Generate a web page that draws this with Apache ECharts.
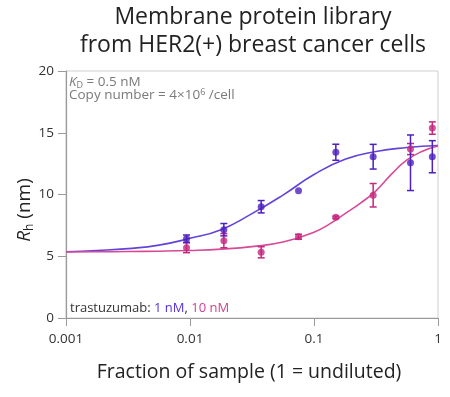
<!DOCTYPE html>
<html>
<head>
<meta charset="utf-8">
<script src="https://cdn.jsdelivr.net/npm/echarts@6/dist/echarts.min.js"></script>
<style>
  html, body { margin: 0; padding: 0; background: #fff; }
  #chart { width: 450px; height: 397px; }
</style>
</head>
<body>
<div id="chart"></div>
<script>
// measured points (fraction of sample) and R_h in nm
const fractions = [0.009375, 0.01875, 0.0375, 0.075, 0.15, 0.3, 0.6, 0.9]
const rh1nM = [6.42, 7.15, 9.01, 10.31, 13.42, 13.06, 12.57, 13.06]
const err1nM = [0.3, 0.5, 0.5, 0, 0.65, 1.0, 2.25, 1.3]
const rh10nM = [5.69, 6.26, 5.32, 6.58, 8.15, 9.94, 13.68, 15.38]
const err10nM = [0.4, 0.57, 0.45, 0.2, 0.1, 0.95, 0.45, 0.5]

// fitted curves
const fit1nMX = [0.001, 0.00178, 0.00316, 0.00562, 0.01, 0.0178, 0.0316, 0.0562, 0.1, 0.178, 0.316, 0.562, 1]
const fit1nMY = [5.37, 5.47, 5.62, 5.9, 6.45, 7.15, 8.45, 9.95, 11.62, 12.85, 13.48, 13.8, 13.97]
const fit10nMX = [0.001, 0.00178, 0.00316, 0.00562, 0.01, 0.0178, 0.0316, 0.0562, 0.1, 0.133, 0.178, 0.237, 0.316, 0.422, 0.562, 0.75, 1]
const fit10nMY = [5.35, 5.36, 5.38, 5.41, 5.47, 5.58, 5.78, 6.15, 6.95, 7.6, 8.45, 9.3, 10.3, 11.65, 12.8, 13.5, 13.92]

const xTickLabels = { 0.001: '0.001', 0.01: '0.01', 0.1: '0.1', 1: '1' }
const yTicks = [0, 5, 10, 15, 20]

const BLUE = '#4d20bf'
const BLUE_LINE = '#6444d8'
const PINK = '#c4287f'
const PINK_LINE = '#d84a98'
const FONT = '"Open Sans", "Noto Sans", sans-serif'

const zip = (xs, ys) => xs.map((x, i) => [x, ys[i]])
const withErr = (xs, ys, es) => xs.map((x, i) => [x, ys[i], es[i]])

const errorBars = (color) => (params, api) => {
  const x = api.value(0)
  const y = api.value(1)
  const e = api.value(2)
  if (!e) return null
  const top = api.coord([x, y + e])
  const bot = api.coord([x, y - e])
  const cap = 3.5
  const style = { stroke: color, lineWidth: 1.5 }
  return {
    type: 'group',
    children: [
      { type: 'line', shape: { x1: top[0], y1: top[1], x2: bot[0], y2: bot[1] }, style },
      { type: 'line', shape: { x1: top[0] - cap, y1: top[1], x2: top[0] + cap, y2: top[1] }, style },
      { type: 'line', shape: { x1: bot[0] - cap, y1: bot[1], x2: bot[0] + cap, y2: bot[1] }, style }
    ]
  }
}

const chart = echarts.init(document.getElementById('chart'))

const option = {
  animation: false,
  grid: {
    left: 66, right: 12, top: 71, bottom: 79,
    show: true, borderColor: '#cfcfcf', borderWidth: 1
  },
  xAxis: {
    type: 'log',
    logBase: 10,
    min: 0.001,
    max: 1,
    axisLine: { show: true, lineStyle: { color: '#9a9a9a', width: 1.2 } },
    axisTick: { show: true, length: 8, lineStyle: { color: '#9a9a9a' } },
    minorTick: { show: false },
    splitLine: { show: false },
    axisLabel: {
      margin: 14,
      fontSize: 13.5,
      color: '#333',
      fontFamily: FONT,
      formatter: (v) => xTickLabels[v] ?? ''
    }
  },
  yAxis: {
    type: 'value',
    min: yTicks[0],
    max: yTicks[yTicks.length - 1],
    interval: 5,
    axisLine: { show: true, lineStyle: { color: '#9a9a9a', width: 1.2 } },
    axisTick: { show: true, length: 8, lineStyle: { color: '#9a9a9a' } },
    splitLine: { show: false },
    axisLabel: { margin: 12, fontSize: 13.5, color: '#333', fontFamily: FONT }
  },
  series: [
    {
      type: 'line', data: zip(fit1nMX, fit1nMY), smooth: 0.5,
      showSymbol: false, lineStyle: { color: BLUE_LINE, width: 1.6 }, z: 2
    },
    {
      type: 'line', data: zip(fit10nMX, fit10nMY), smooth: 0.5,
      showSymbol: false, lineStyle: { color: PINK_LINE, width: 1.6 }, z: 2
    },
    {
      type: 'custom', data: withErr(fractions, rh10nM, err10nM),
      renderItem: errorBars(PINK), z: 3
    },
    {
      type: 'custom', data: withErr(fractions, rh1nM, err1nM),
      renderItem: errorBars(BLUE), z: 3
    },
    {
      type: 'scatter', data: zip(fractions, rh10nM), symbolSize: 7,
      itemStyle: { color: PINK }, z: 4
    },
    {
      type: 'scatter', data: zip(fractions, rh1nM), symbolSize: 7,
      itemStyle: { color: BLUE }, z: 4
    }
  ],
  graphic: [
    {
      type: 'text', x: 253, y: 17,
      style: {
        text: 'Membrane protein library', fontSize: 23, fontFamily: FONT,
        fill: '#222', align: 'center', verticalAlign: 'middle'
      }
    },
    {
      type: 'text', x: 253, y: 45,
      style: {
        text: 'from HER2(+) breast cancer cells', fontSize: 23, fontFamily: FONT,
        fill: '#222', align: 'center', verticalAlign: 'middle'
      }
    },
    {
      type: 'text', x: 25, y: 210, rotation: Math.PI / 2,
      style: {
        text: '{r|R}{h|h}{n| (nm)}',
        align: 'center', verticalAlign: 'middle', fill: '#222',
        rich: {
          r: { fontSize: 19, fontStyle: 'italic', fontFamily: FONT, fill: '#222' },
          h: { fontSize: 12, fontFamily: FONT, fill: '#222', padding: [10, 0, 0, 0] },
          n: { fontSize: 19, fontFamily: FONT, fill: '#222' }
        }
      }
    },
    {
      type: 'text', x: 249, y: 372,
      style: {
        text: 'Fraction of sample (1 = undiluted)', fontSize: 19.5, fontFamily: FONT,
        fill: '#222', align: 'center', verticalAlign: 'middle'
      }
    },
    {
      type: 'text', x: 69, y: 82,
      style: {
        text: '{k|K}{d|D}{t| = 0.5 nM}',
        verticalAlign: 'middle',
        rich: {
          k: { fontSize: 13.5, fontStyle: 'italic', fontFamily: FONT, fill: '#7a7a7a' },
          d: { fontSize: 9, fontFamily: FONT, fill: '#7a7a7a', padding: [6, 0, 0, 0] },
          t: { fontSize: 13.5, fontFamily: FONT, fill: '#7a7a7a' }
        }
      }
    },
    {
      type: 'text', x: 69, y: 95,
      style: {
        text: '{t|Copy number = 4×10}{s|6}{t| /cell}',
        verticalAlign: 'middle',
        rich: {
          t: { fontSize: 13.5, fontFamily: FONT, fill: '#7a7a7a' },
          s: { fontSize: 9, fontFamily: FONT, fill: '#7a7a7a', padding: [0, 0, 6, 0] }
        }
      }
    },
    {
      type: 'text', x: 70, y: 308,
      style: {
        text: '{t|trastuzumab: }{b|1 nM}{t|, }{p|10 nM}',
        verticalAlign: 'middle',
        rich: {
          t: { fontSize: 13, fontFamily: FONT, fill: '#333' },
          b: { fontSize: 13, fontFamily: FONT, fill: '#5533dd' },
          p: { fontSize: 13, fontFamily: FONT, fill: '#d0408f' }
        }
      }
    }
  ]
}

chart.setOption(option)
</script>
</body>
</html>
